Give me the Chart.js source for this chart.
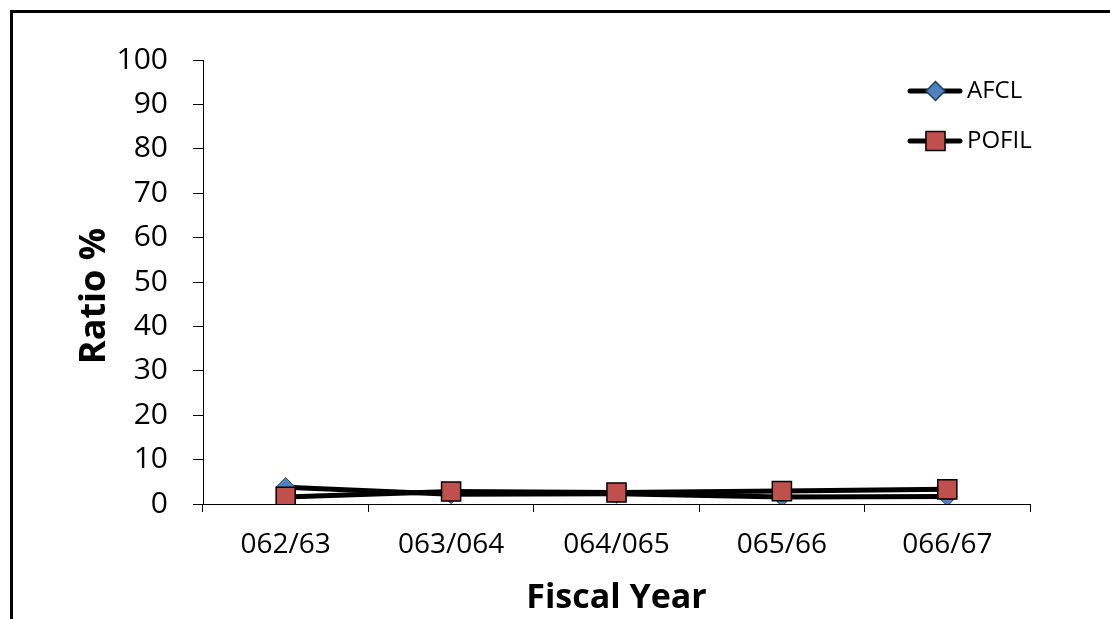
<!DOCTYPE html>
<html>
<head>
<meta charset="utf-8">
<script src="https://cdn.jsdelivr.net/npm/chart.js@4/dist/chart.umd.min.js"></script>
<style>
    html, body { margin: 0; padding: 0; background: #fff; overflow: hidden; }
    #wrap { position: relative; width: 1110px; height: 619px; }
    #frame { position: absolute; left: 10px; top: 10px; width: 1200px; height: 700px; border: 3px solid #000; pointer-events: none; }
</style>
</head>
<body>
<div id="wrap">
    <canvas id="grafico" width="1110" height="619"></canvas>
    <div id="frame"></div>
</div>
<script>
// Dados do gráfico
const anos = ["062/63", "063/064", "064/065", "065/66", "066/67"];
const afcl = [3.8, 2.2, 2.3, 1.6, 1.7];
const pofil = [1.6, 2.8, 2.6, 2.9, 3.3];
const ticksY = [0, 10, 20, 30, 40, 50, 60, 70, 80, 90, 100];

const fonte = "'Open Sans', 'Liberation Sans', sans-serif";

// Legenda desenhada à mão (linha + marcador + texto)
const legendaPlugin = {
    id: "legendaManual",
    afterDraw(chart) {
        const ctx = chart.ctx;
        const itens = [
            { texto: "AFCL", estilo: "rectRot", cor: "#4F81BD", borda: "#1F3F66", raio: 9.5, y: 91 },
            { texto: "POFIL", estilo: "rect", cor: "#C0504D", borda: "#000", raio: 13.5, y: 141 }
        ];
        itens.forEach(item => {
            ctx.save();
            ctx.strokeStyle = "#000";
            ctx.lineWidth = 5;
            ctx.lineCap = "round";
            ctx.beginPath();
            ctx.moveTo(910, item.y);
            ctx.lineTo(960, item.y);
            ctx.stroke();
            ctx.fillStyle = item.cor;
            ctx.strokeStyle = item.borda;
            ctx.lineWidth = 1.5;
            Chart.helpers.drawPoint(ctx, { pointStyle: item.estilo, radius: item.raio, borderWidth: 1.5 }, 935.5, item.y);
            ctx.fillStyle = "#000";
            ctx.font = "24px " + fonte;
            ctx.textBaseline = "middle";
            ctx.fillText(item.texto, 967, item.y);
            ctx.restore();
        });
    }
};

const ctx = document.getElementById("grafico").getContext("2d");
new Chart(ctx, {
    type: "line",
    data: {
        labels: anos,
        datasets: [
            {
                label: "AFCL",
                data: afcl,
                borderColor: "#000",
                borderWidth: 5,
                pointStyle: "rectRot",
                pointRadius: 9.5,
                pointBackgroundColor: "#4F81BD",
                pointBorderColor: "#1F3F66",
                pointBorderWidth: 1,
                order: 2,
                tension: 0
            },
            {
                label: "POFIL",
                data: pofil,
                borderColor: "#000",
                borderWidth: 5,
                pointStyle: "rect",
                pointRadius: 13.5,
                pointBackgroundColor: "#C0504D",
                pointBorderColor: "#000",
                pointBorderWidth: 1.5,
                order: 1,
                tension: 0
            }
        ]
    },
    options: {
        responsive: false,
        animation: false,
        layout: { padding: { top: 60, right: 80, bottom: 0, left: 0 } },
        plugins: {
            legend: { display: false },
            tooltip: { enabled: false }
        },
        scales: {
            x: {
                offset: true,
                grid: { offset: true, drawOnChartArea: false, drawTicks: true, tickLength: 8, color: "#000" },
                border: { display: true, color: "#000", width: 1 },
                ticks: { color: "#000", padding: 16, font: { family: fonte, size: 28 } },
                title: {
                    display: true,
                    text: "Fiscal Year",
                    color: "#000",
                    padding: { top: 0, bottom: 0 },
                    font: { family: fonte, size: 34, weight: "bold" }
                },
                afterFit(scale) { scale.height = 115; }
            },
            y: {
                min: 0,
                max: 100,
                afterBuildTicks(scale) { scale.ticks = ticksY.map(v => ({ value: v })); },
                grid: { drawOnChartArea: false, drawTicks: true, tickLength: 10, color: "#000" },
                border: { display: true, color: "#000", width: 1 },
                ticks: { color: "#000", padding: 25, font: { family: fonte, size: 30 } },
                title: {
                    display: true,
                    text: "Ratio %   ",
                    color: "#000",
                    padding: { top: 73, bottom: 0 },
                    font: { family: fonte, size: 36, weight: "bold" }
                },
                afterFit(scale) { scale.width = 203; }
            }
        }
    },
    plugins: [legendaPlugin]
});
</script>
</body>
</html>
